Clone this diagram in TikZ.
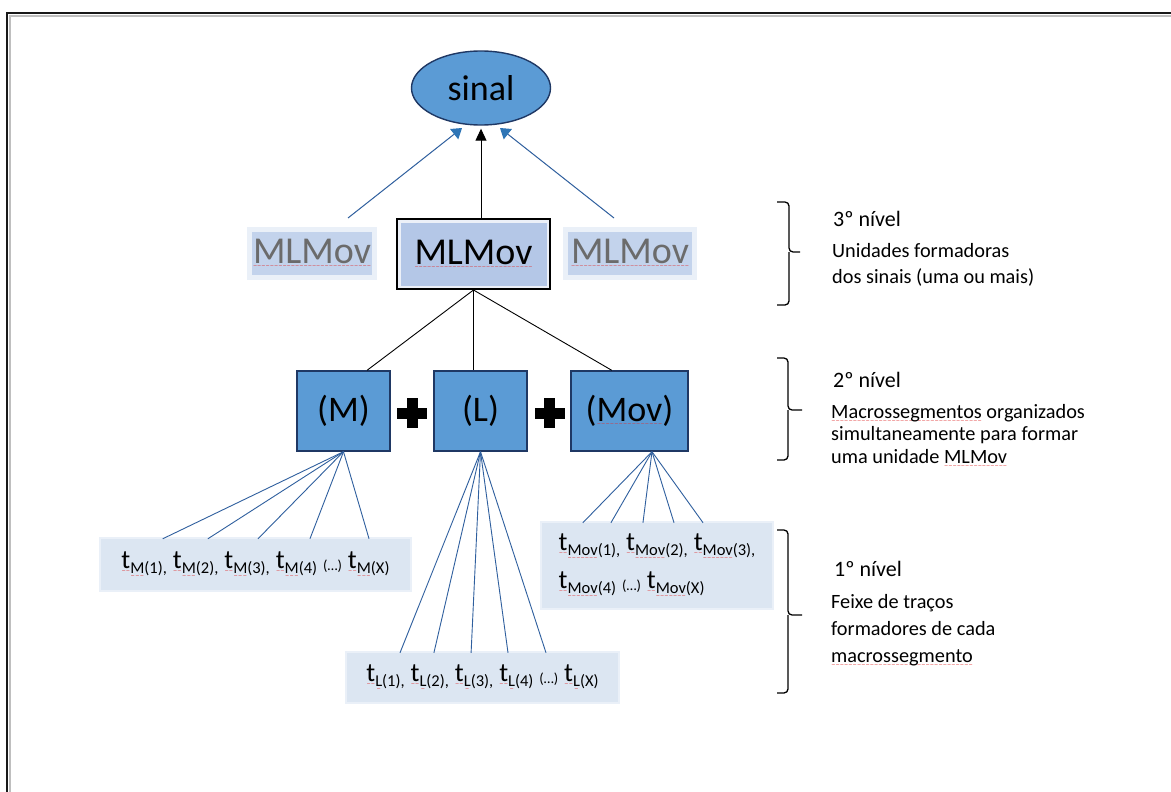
\documentclass[tikz,border=0pt]{standalone}
\usepackage{fontspec}
\setmainfont{Carlito}
\newfontfamily\wavefont{DejaVu Sans}
\usetikzlibrary{shapes.geometric,arrows.meta,calc}
\definecolor{midblue}{HTML}{5B9BD5}
\definecolor{navy}{HTML}{1F3864}
\definecolor{arrblue}{HTML}{2E75B6}
\definecolor{linblue}{HTML}{2F5F9E}
\definecolor{paleblue}{HTML}{DCE6F2}
\definecolor{halo}{HTML}{EAF0F8}
\definecolor{mlfill}{HTML}{B4C7E7}
\definecolor{ghostfill}{HTML}{C3D3EC}
\definecolor{ghosttext}{HTML}{6B6B6B}
\definecolor{wavered}{HTML}{E03030}
\newsavebox\wvbox
\newcommand\redwave[1]{\sbox\wvbox{#1}\rlap{\raisebox{-4.2pt}{\color{wavered}\wavefont\fontsize{5}{5}\selectfont\hbox to \wd\wvbox{\xleaders\hbox{\char"223C}\hfil}}}\usebox\wvbox}
\newcommand\tsym[2]{\redwave{t}\raisebox{-5.5pt}{\fontsize{16.5}{18}\selectfont\redwave{#1}#2}}
\newcommand\tdots{\raisebox{-2pt}{\fontsize{14.5}{15}\selectfont(…)}}
\begin{document}
\begin{tikzpicture}[x=1pt,y=-1pt,
  ellnode/.style={ellipse, draw=navy, line width=1.4pt, fill=midblue, minimum width=139pt, minimum height=74pt, inner sep=0pt, font=\fontsize{36}{40}\selectfont},
  mlbox/.style={draw=black, line width=2pt, fill=mlfill, minimum width=153pt, minimum height=70pt, inner sep=0pt, font=\fontsize{38}{42}\selectfont,
     path picture={\draw[white, line width=7pt, opacity=0.75] (path picture bounding box.south west) rectangle (path picture bounding box.north east);}},
  ghost/.style={fill=ghostfill, preaction={draw=halo, line width=10pt}, minimum height=43pt, inner sep=0pt, text=ghosttext, font=\fontsize{38}{42}\selectfont},
  segbox/.style={draw=navy, line width=1.4pt, fill=midblue, minimum height=80pt, inner sep=0pt, font=\fontsize{36}{40}\selectfont},
  tbox/.style={fill=paleblue, preaction={draw=halo, line width=4pt}, inner sep=0pt, font=\fontsize{26.5}{38}\selectfont},
  fanline/.style={draw=linblue, line width=0.9pt},
  blkline/.style={draw=black, line width=0.9pt},
  sidehead/.style={anchor=base west, inner sep=0pt, font=\fontsize{22}{24}\selectfont},
  sidebody/.style={anchor=base west, inner sep=0pt, align=left, font=\fontsize{20.3}{#1}\selectfont},
  bracepath/.style={draw=black, line width=1.3pt, rounded corners=4pt}
]
\useasboundingbox (0,0) rectangle (1171,792);
\fill[white] (0,0) rectangle (1171,792);
% frame
\draw[black!25, line width=1.5pt] (10,792) -- (10,16) -- (1171,16);
\draw[black!90, line width=2.5pt] (7,792) -- (7,13) -- (1171,13);

% top
\node[ellnode] (sinal) at (481,88) {sinal};
\node[mlbox] (ml) at (473.5,254) {\redwave{MLMov}};
\node[ghost, minimum width=120pt] (gl) at (312,253.5) {\redwave{MLMov}};
\node[ghost, minimum width=124pt] (gr) at (630,253.5) {\redwave{MLMov}};

\coordinate (la) at (348,218);
\coordinate (lb) at (462,128);
\coordinate (ra) at (614,218);
\coordinate (rb) at (500,128);
\draw[line width=1pt, -{Triangle[width=11pt,length=12pt]}] (sinal.south |- ml.north) -- ($(sinal.south)+(0,3)$);
\draw[draw=linblue, line width=1pt, -{Triangle[width=13pt,length=10pt, color=arrblue]}] (la) -- (lb);
\draw[draw=linblue, line width=1pt, -{Triangle[width=13pt,length=10pt, color=arrblue]}] (ra) -- (rb);

% second level
\node[segbox, minimum width=93pt] (M) at (343.5,411) {(M)};
\node[segbox, minimum width=93pt] (L) at (480.5,411) {(L)};
\node[segbox, minimum width=117pt] (Mov) at (629.5,411) {(\redwave{Mov})};
\fill[black] (397,407.5) rectangle (427,418.5);
\fill[black] (406.5,398) rectangle (417.5,428);
\fill[black] (534.5,407.5) rectangle (564.5,418.5);
\fill[black] (544,398) rectangle (555,428);

\draw[blkline] (ml.south) -- ($(M.north west)!0.75!(M.north east)$);
\draw[blkline] (ml.south) -- (ml.south |- L.north);
\draw[blkline] (ml.south) -- ($(Mov.north west)!0.35!(Mov.north east)$);

% first level boxes
\node[tbox, minimum width=309pt, minimum height=51pt] (tM) at (255.5,564.5)
  {\tsym{M}{(1),} \tsym{M}{(2),} \tsym{M}{(3),} \tsym{M}{(4)} \tdots\ \tsym{M}{(X)}};
\node[tbox, minimum width=230pt, minimum height=85pt, align=left] (tMov) at (657,565.5)
  {\tsym{Mov}{(1),} \tsym{Mov}{(2),} \tsym{Mov}{(3),}\\\tsym{Mov}{(4)} \tdots\ \tsym{Mov}{(X)}};
\node[tbox, minimum width=271pt, minimum height=49pt] (tL) at (482.5,677.5)
  {\tsym{L}{(1),} \tsym{L}{(2),} \tsym{L}{(3),} \tsym{L}{(4)} \tdots\ \tsym{L}{(X)}};

\foreach \f in {0.20,0.346,0.508,0.676,0.867}
  \draw[fanline] (M.south) -- ($(tM.north west)!\f!(tM.north east)$);
\foreach \f in {0.196,0.321,0.458,0.594,0.734}
  \draw[fanline] (L.south) -- ($(tL.north west)!\f!(tL.north east)$);
\foreach \f in {0.178,0.30,0.439,0.574,0.70}
  \draw[fanline] ($(Mov.south west)!0.69!(Mov.south east)$) -- ($(tMov.north west)!\f!(tMov.north east)$);

% braces
\draw[bracepath] (777,202) -| (789,252) -- (800,252);
\draw[bracepath] (789,252) |- (777,305);
\draw[bracepath] (777,358) -| (788,410) -- (802,410);
\draw[bracepath] (788,410) |- (777,460);
\draw[bracepath] (777,530) -| (788,615) -- (802,615);
\draw[bracepath] (788,615) |- (777,693);

% side texts (base anchor = baseline of the last line)
\node[sidehead] (h3) at (833,226) {3º nível};
\node[sidebody=26pt] (b3) at (832,283) {Unidades formadoras\\dos sinais (uma ou mais)};
\node[sidehead] (h2) at (833,387) {2º nível};
\node[sidebody=22.5pt] (b2) at (831,463) {\redwave{Macrossegmentos} organizados\\simultaneamente para formar\\uma unidade \redwave{MLMov}};
\node[sidehead] (h1) at (834,576) {1º nível};
\node[sidebody=27pt] (b1) at (831,662) {Feixe de traços\\formadores de cada\\\redwave{macrossegmento}};
\end{tikzpicture}
\end{document}
